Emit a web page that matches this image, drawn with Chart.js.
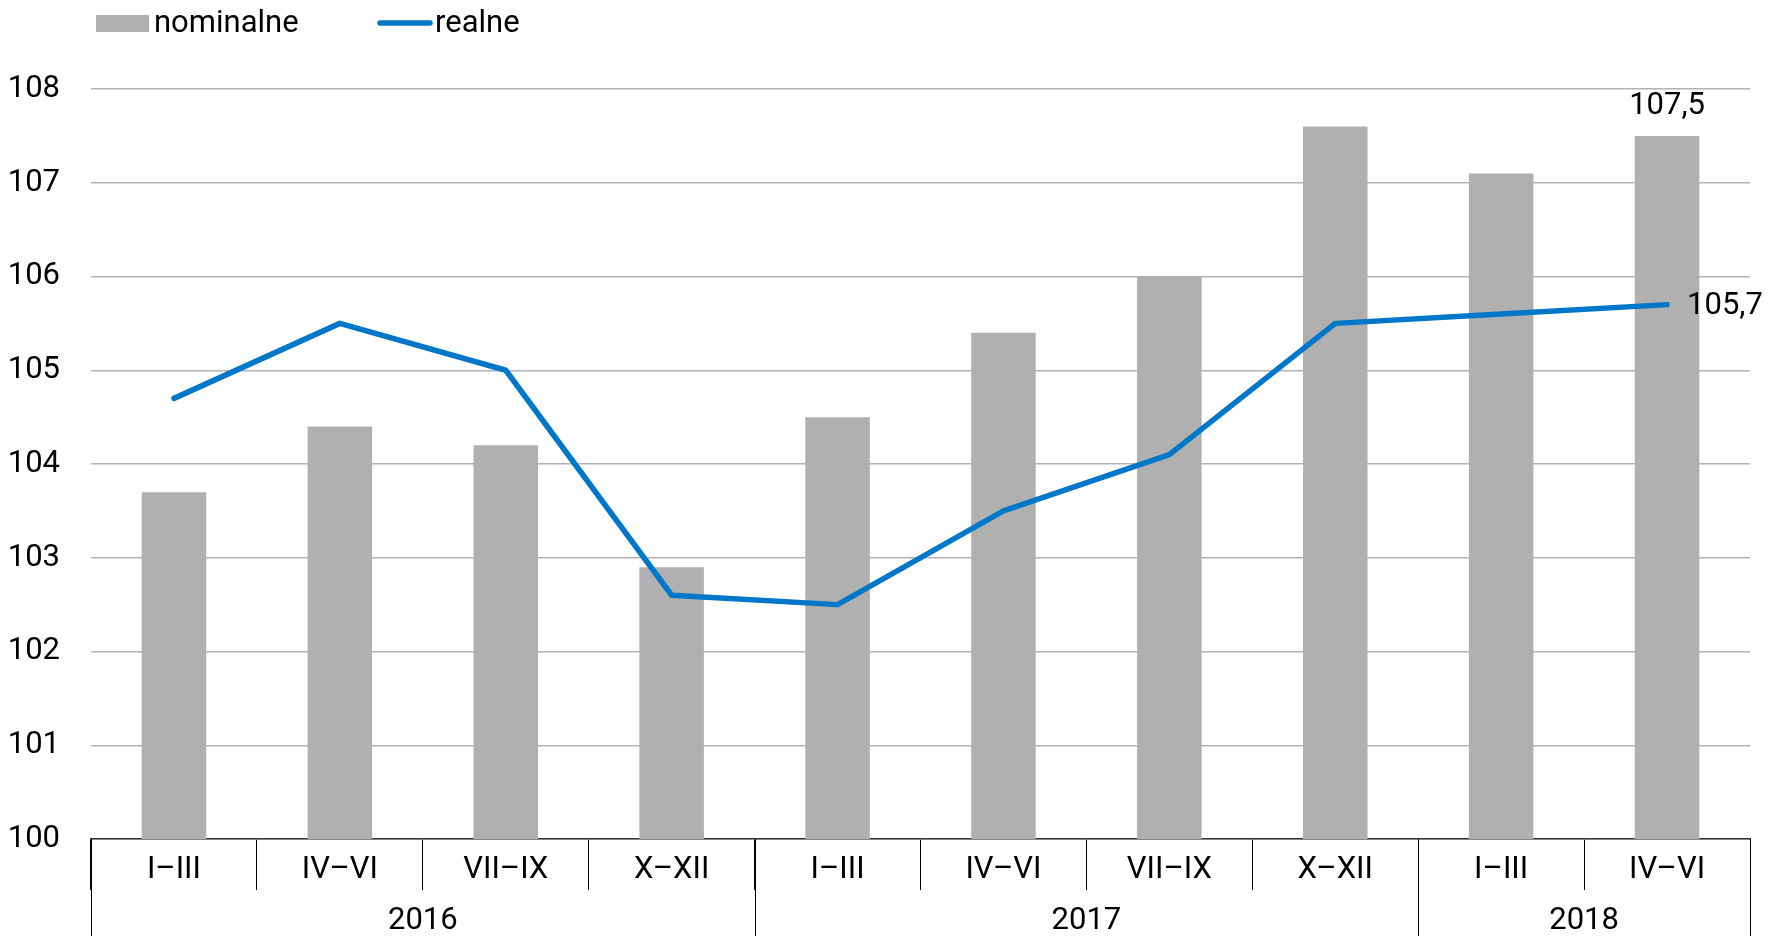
<!DOCTYPE html>
<html>
<head>
<meta charset="utf-8">
<script src="https://cdn.jsdelivr.net/npm/chart.js@4/dist/chart.umd.min.js"></script>
<style>
html,body{margin:0;padding:0;background:#fff;}
#wrap{width:1773px;height:936px;position:relative;}
</style>
</head>
<body>
<div id="wrap"><canvas id="c" width="1773" height="936"></canvas></div>
<script>
const quarters = ['I–III','IV–VI','VII–IX','X–XII','I–III','IV–VI','VII–IX','X–XII','I–III','IV–VI'];
const years = ['2016','2017','2018'];
const yearSpans = [4,4,2];
const nominalne = [103.7,104.4,104.2,102.9,104.5,105.4,106.0,107.6,107.1,107.5];
const realne = [104.7,105.5,105.0,102.6,102.5,103.5,104.1,105.5,105.6,105.7];
const yTicks = [100,101,102,103,104,105,106,107,108];
const seriesNames = ['nominalne','realne'];

const FONT = 'Roboto, "Liberation Sans", sans-serif';
const FS = 31;
const BAR_COLOR = '#b0b0b0';
const LINE_COLOR = '#0077c8';

const extras = {
  id: 'extras',
  afterDraw(chart) {
    const ctx = chart.ctx;
    const x = chart.scales.x;
    const area = chart.chartArea;
    ctx.save();
    // year groups
    ctx.strokeStyle = '#000';
    ctx.lineWidth = 1;
    let start = 0;
    const bounds = [0];
    yearSpans.forEach(s => { start += s; bounds.push(start); });
    bounds.forEach(b => {
      const px = Math.round(x.getPixelForValue(b - 0.5)) + 0.5;
      ctx.beginPath();
      ctx.moveTo(px, area.bottom);
      ctx.lineTo(px, chart.height);
      ctx.stroke();
    });
    ctx.fillStyle = '#000';
    ctx.font = FS + 'px ' + FONT;
    ctx.textAlign = 'center';
    ctx.textBaseline = 'middle';
    years.forEach((y, i) => {
      const l = x.getPixelForValue(bounds[i] - 0.5);
      const r = x.getPixelForValue(bounds[i+1] - 0.5);
      ctx.fillText(y, (l + r) / 2, 921);
    });
    // data labels on last points
    const barMeta = chart.getDatasetMeta(0);
    const lineMeta = chart.getDatasetMeta(1);
    const last = nominalne.length - 1;
    const bEl = barMeta.data[last];
    ctx.textAlign = 'center';
    ctx.textBaseline = 'middle';
    ctx.fillText(nominalne[last].toFixed(1).replace('.', ','), bEl.x, bEl.y - 30);
    const lEl = lineMeta.data[last];
    ctx.textAlign = 'left';
    ctx.textBaseline = 'middle';
    ctx.fillText(realne[last].toFixed(1).replace('.', ','), lEl.x + 20, lEl.y + 2);
    // legend
    ctx.fillStyle = BAR_COLOR;
    ctx.fillRect(96, 15, 53, 17);
    ctx.fillStyle = '#000';
    ctx.textAlign = 'left';
    ctx.textBaseline = 'middle';
    ctx.fillText(seriesNames[0], 154, 24);
    ctx.strokeStyle = LINE_COLOR;
    ctx.lineWidth = 5.5;
    ctx.lineCap = 'round';
    ctx.beginPath();
    ctx.moveTo(380, 23);
    ctx.lineTo(430, 23);
    ctx.stroke();
    ctx.fillText(seriesNames[1], 435, 24);
    ctx.restore();
  }
};

new Chart(document.getElementById('c'), {
  data: {
    labels: quarters,
    datasets: [
      {
        type: 'bar',
        label: seriesNames[0],
        data: nominalne,
        backgroundColor: BAR_COLOR,
        categoryPercentage: 1,
        barPercentage: 0.389,
        order: 1
      },
      {
        type: 'line',
        label: seriesNames[1],
        data: realne,
        borderColor: LINE_COLOR,
        borderWidth: 5.5,
        borderCapStyle: 'round',
        borderJoinStyle: 'round',
        pointRadius: 0,
        tension: 0,
        fill: false,
        order: 0
      }
    ]
  },
  options: {
    responsive: false,
    animation: false,
    devicePixelRatio: 1,
    layout: { padding: { top: 89, right: 23, bottom: 0, left: 0 } },
    plugins: { legend: { display: false }, tooltip: { enabled: false } },
    scales: {
      x: {
        type: 'category',
        offset: true,
        grid: {
          offset: true,
          drawOnChartArea: false,
          drawTicks: true,
          tickLength: 51,
          tickColor: '#000',
          tickWidth: 1
        },
        border: { display: true, color: '#333', width: 1.5 },
        ticks: {
          font: { family: FONT, size: FS },
          color: '#000',
          padding: -38,
          maxRotation: 0,
          autoSkip: false
        },
        afterFit(scale) { scale.height = 97; }
      },
      y: {
        type: 'linear',
        min: yTicks[0],
        max: yTicks[yTicks.length - 1],
        afterBuildTicks(scale) { scale.ticks = yTicks.map(v => ({ value: v })); },
        grid: { color: '#b3b3b3', lineWidth: 1.5, drawTicks: false },
        border: { display: false },
        ticks: {
          font: { family: FONT, size: FS },
          color: '#000',
          padding: 31
        },
        afterFit(scale) { scale.width = 91; }
      }
    }
  },
  plugins: [extras]
});
</script>
</body>
</html>
